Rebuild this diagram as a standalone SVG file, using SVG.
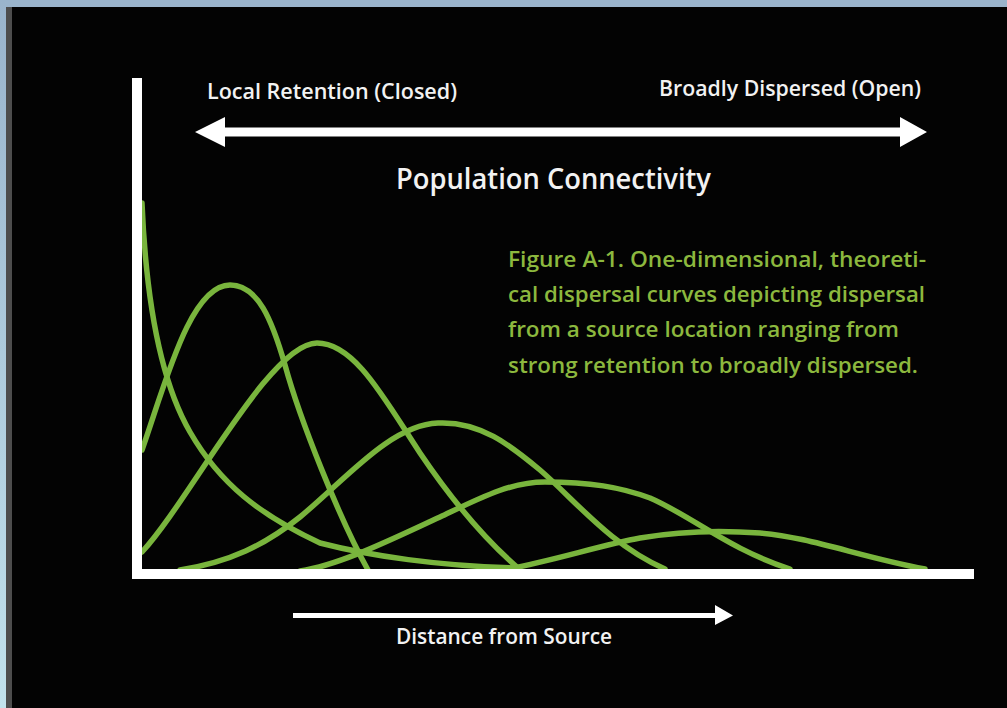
<svg xmlns="http://www.w3.org/2000/svg" width="1007" height="708" viewBox="0 0 1007 708">
  <defs>
    <linearGradient id="leftStrip" x1="0" y1="0" x2="0" y2="1">
      <stop offset="0" stop-color="#9ab4cc"/>
      <stop offset="1" stop-color="#c2e2ec"/>
    </linearGradient>
    <style>
      .lbl { font-family: "Open Sans", "Liberation Sans", sans-serif; fill: #f2f2f2; font-weight: 600; }
      .cap { font-family: "Open Sans", "Liberation Sans", sans-serif; fill: #8cb83e; font-size: 22px; font-weight: 600; }
      .curve { fill: none; stroke: #79b53d; stroke-width: 5.5; stroke-linecap: round; stroke-linejoin: round; }
      .axis { fill: #ffffff; }
    </style>
  </defs>

  <!-- background and frame -->
  <rect x="0" y="0" width="1007" height="708" fill="#030303"/>
  <rect x="0" y="0" width="1007" height="7" fill="#9ab4cc"/>
  <rect x="0" y="0" width="6" height="708" fill="url(#leftStrip)"/>
  <rect x="6" y="7" width="6" height="701" fill="#4d4d4d"/>

  <!-- dispersal curves -->
  <g id="curves">
    <path class="curve" d="M142,203 C146,300 160,380 190,432 S260,515 320,543 C370,556 440,566 515,568"/>
    <path class="curve" d="M142,450 C165,385 190,285 230,285 C258,285 272,320 285,365 C300,420 340,520 368,570"/>
    <path class="curve" d="M142,552 C190,500 270,343 317,343 C355,343 385,400 420,453 C445,490 480,535 518,568"/>
    <path class="curve" d="M180,570 C230,562 265,545 300,517 C345,480 390,425 438,423 C480,421 510,445 540,470 C575,500 610,545 665,569"/>
    <path class="curve" d="M300,571 C340,565 390,540 440,517 C480,498 510,482 545,482 C590,482 620,487 650,498 C690,515 730,550 790,569"/>
    <path class="curve" d="M495,571 C540,565 600,545 640,538 C680,531 720,530 760,533 C810,537 860,557 925,569"/>
  </g>

  <!-- axes -->
  <g id="axes">
    <rect class="axis" x="132" y="78" width="10" height="501"/>
    <rect class="axis" x="132" y="569" width="842" height="10"/>
  </g>

  <!-- connectors: arrows -->
  <g id="connectors">
    <polygon id="connectivity-arrow" fill="#ffffff"
      points="195,132 225,117 225,127.5 900,127.5 900,117 927,132 900,147 900,136.5 225,136.5 225,147"/>
    <polygon id="distance-arrow" fill="#ffffff"
      points="293,613 715,613 715,605 733,615.5 715,625 715,618 293,618"/>
  </g>

  <!-- labels -->
  <g id="label-local">
    <text class="lbl" x="207" y="99" font-size="21" textLength="250" lengthAdjust="spacingAndGlyphs">Local Retention (Closed)</text>
  </g>
  <g id="label-broad">
    <text class="lbl" x="659" y="96" font-size="21" textLength="262" lengthAdjust="spacingAndGlyphs">Broadly Dispersed (Open)</text>
  </g>
  <g id="label-connectivity">
    <text class="lbl" x="396" y="189" font-size="28" font-weight="500" textLength="315" lengthAdjust="spacingAndGlyphs">Population Connectivity</text>
  </g>
  <g id="label-distance">
    <text class="lbl" x="396" y="644" font-size="21" textLength="216" lengthAdjust="spacingAndGlyphs">Distance from Source</text>
  </g>
  <g id="caption">
    <text class="cap" x="508" y="267" textLength="418" lengthAdjust="spacingAndGlyphs">Figure A-1. One-dimensional, theoreti-</text>
    <text class="cap" x="508" y="302" textLength="417" lengthAdjust="spacingAndGlyphs">cal dispersal curves depicting dispersal</text>
    <text class="cap" x="508" y="337" textLength="391" lengthAdjust="spacingAndGlyphs">from a source location ranging from</text>
    <text class="cap" x="508" y="373" textLength="410" lengthAdjust="spacingAndGlyphs">strong retention to broadly dispersed.</text>
  </g>
</svg>
